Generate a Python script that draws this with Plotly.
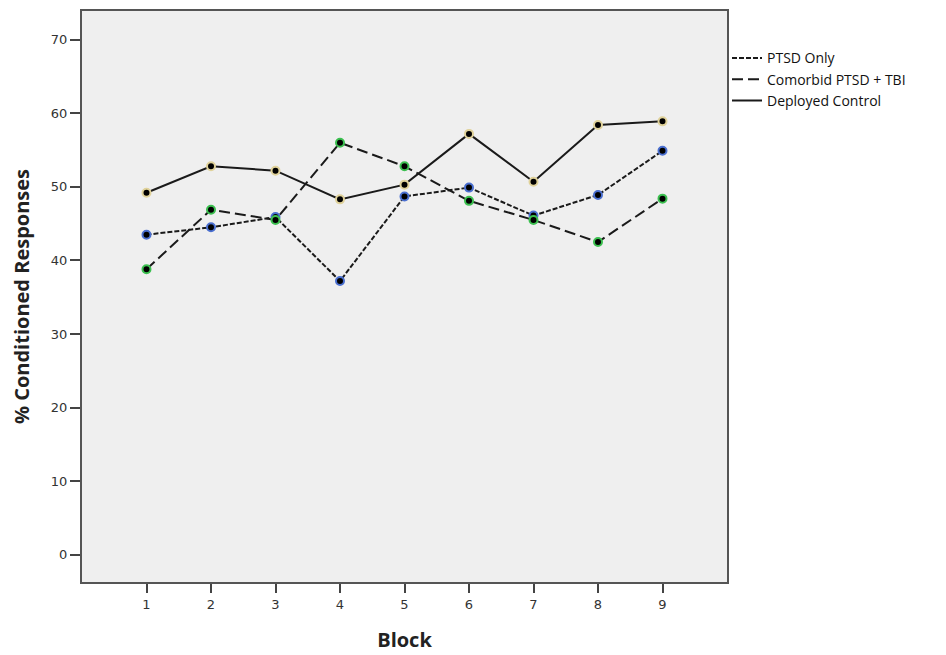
import plotly.graph_objects as go

blocks = [1, 2, 3, 4, 5, 6, 7, 8, 9]
ptsd_only = [43.5, 44.5, 45.9, 37.2, 48.7, 49.9, 46.1, 48.9, 54.9]
comorbid = [38.8, 46.9, 45.5, 56.0, 52.8, 48.1, 45.5, 42.5, 48.4]
deployed = [49.2, 52.8, 52.2, 48.3, 50.3, 57.2, 50.7, 58.4, 58.9]

series = [
    ("PTSD Only", ptsd_only, "5px,2px", "#4a6fd0"),
    ("Comorbid PTSD + TBI", comorbid, "11px,5px", "#3cc050"),
    ("Deployed Control", deployed, "solid", "#e0d29a"),
]

fig = go.Figure()
for name, vals, dash, halo in series:
    fig.add_trace(go.Scatter(
        x=blocks, y=vals, mode="lines", name=name,
        line=dict(color="#1a1a1a", width=2, dash=dash),
    ))
for name, vals, dash, halo in series:
    fig.add_trace(go.Scatter(
        x=blocks, y=vals, mode="markers", showlegend=False,
        marker=dict(color="#000000", size=8, line=dict(color=halo, width=2)),
    ))

fig.update_layout(
    width=946, height=655,
    margin=dict(l=74, r=227, t=1, b=81),
    paper_bgcolor="white",
    plot_bgcolor="#efefef",
    showlegend=True,
    legend=dict(
        x=1.0, xanchor="left", y=0.945, yanchor="top",
        font=dict(family="Open Sans", size=14, color="#111"),
        bgcolor="rgba(0,0,0,0)", itemwidth=30, tracegroupgap=0,
    ),
    xaxis=dict(
        range=[0, 10], tickmode="array", tickvals=blocks,
        ticktext=[str(b) for b in blocks],
        showgrid=False, zeroline=False,
        showline=True, mirror=True, linecolor="#555", linewidth=2,
        ticks="outside", ticklen=9, tickcolor="#444", tickwidth=2,
        tickfont=dict(family="DejaVu Sans", size=13, color="#333"),
        title=dict(text="Block", font=dict(family="Open Sans", size=20, color="#222", weight="bold"), standoff=22),
    ),
    yaxis=dict(
        range=[-3.7, 73.9], tickvals=[0, 10, 20, 30, 40, 50, 60, 70],
        showgrid=False, zeroline=False,
        showline=True, mirror=True, linecolor="#555", linewidth=2,
        ticks="outside", ticklen=10, tickcolor="#444", tickwidth=2,
        tickfont=dict(family="DejaVu Sans", size=13, color="#333"),
        title=dict(text="% Conditioned Responses", font=dict(family="Open Sans", size=20, color="#222", weight="bold"), standoff=16),
    ),
)

fig.write_html("out.html")
